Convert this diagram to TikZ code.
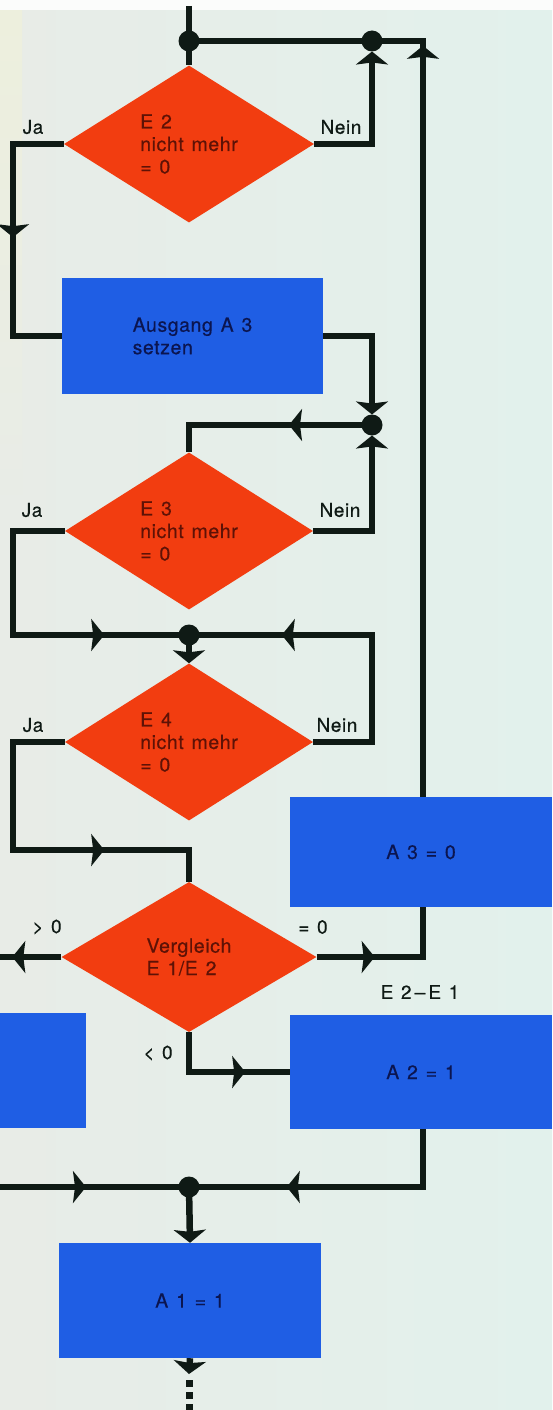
\documentclass[tikz,border=0pt]{standalone}
\usepackage{fontspec}
\setmainfont{TeX Gyre Heros}[LetterSpace=3, WordSpace=1.3, FakeBold=0.4]
\usetikzlibrary{shapes.geometric,arrows.meta,decorations.markings}

\definecolor{bgmint}{HTML}{E2F1EC}
\definecolor{bggrey}{HTML}{E8ECE7}
\definecolor{edgetint}{HTML}{EDEFDD}
\definecolor{ink}{HTML}{0F1A15}
\definecolor{testred}{HTML}{F23D10}
\definecolor{actblue}{HTML}{1F5EE4}
\definecolor{redtext}{HTML}{5E1206}
\definecolor{bluetext}{HTML}{0B1550}

\tikzset{
  flowtip/.tip={Stealth[width=32pt,length=13pt,inset=2pt]},
  test/.style={diamond, fill=testred, inner sep=0pt, minimum width=250pt,
    minimum height=150pt, align=left, text=redtext,
    font=\fontsize{19.5}{22.5}\selectfont},
  action/.style={rectangle, fill=actblue, inner sep=0pt, align=left,
    text=bluetext, font=\fontsize{19.5}{22.5}\selectfont},
  conn/.style={draw=ink, line width=6.5pt},
  lbl/.style={text=ink, font=\fontsize{19}{22}\selectfont, inner sep=0pt},
  arrow at/.style={postaction={decorate,decoration={markings,
    mark=at position #1 with {\arrow{flowtip}}}}},
}

\begin{document}
\begin{tikzpicture}[x=1pt,y=-1pt]
\useasboundingbox (0,0) rectangle (552,1410);
% paper
\shade[left color=bggrey, right color=bgmint] (0,0) rectangle (552,1410);
\shade[top color=edgetint, bottom color=bggrey] (0,10) rectangle (22,520);
\fill[white!85!bggrey] (0,0) rectangle (552,10);

% rails used for the bends
\coordinate (xl) at (13,0);
\coordinate (xn) at (372,0);
\coordinate (xr) at (423,0);
\coordinate (lout) at (-8,0);

% decisions
\node[test] (e2) at (189,144) {E 2\\nicht mehr\\= 0};
\node[test, minimum width=248pt, minimum height=148pt] (e3) at (189,531) {E 3\\nicht mehr\\= 0};
\node[test, minimum width=248pt] (e4) at (189,742) {E 4\\nicht mehr\\= 0};
\node[test, minimum width=255pt] (v) at (189,957) {Vergleich\\E 1/E 2};

% actions
\node[action, minimum width=261pt, minimum height=116pt] (a3set) at (192.5,336) {Ausgang A 3\\setzen};
\node[action, minimum width=262pt, minimum height=110pt] (a30) at (421,852) {A 3 = 0};
\node[action, minimum width=262pt, minimum height=114pt] (a21) at (421,1072) {A 2 = 1};
\node[action, minimum width=96pt, minimum height=115pt] (aleft) at (38,1070.5) {};
\node[action, minimum width=262pt, minimum height=115pt] (a11) at (190,1300.5) {A 1 = 1};

% junctions
\coordinate (j1) at (189,41);
\coordinate (j2) at (372,41);
\coordinate (j3) at (372,425);
\coordinate (j4) at (189,635);
\coordinate (j5) at (189,1187);
\coordinate (top) at (189,6);
\coordinate (k4) at (13,850);
\coordinate (lin) at (-8,1187);
\coordinate (tail) at (189,1374);
\coordinate (cont) at (189,1380);
\coordinate (contend) at (189,1418);

% connectors
\draw[conn] (top) -- (j1);
\draw[conn] (j1) -- (e2.north);
\draw[conn, arrow at=751pt] (a30.north -| xr) |- (j1);
\draw[conn, -{flowtip}, shorten >=10.5pt] (e2.east) -| (j2);
\draw[conn, arrow at=144pt] (e2.west) -| (xl |- a3set.west) -- (a3set.west);
\draw[conn, -{flowtip}, shorten >=10.5pt] (a3set.east) -| (j3);
\draw[conn, -{flowtip}, shorten >=10.5pt] (e3.east) -| (j3);
\draw[conn, arrow at=83pt] (j3) -| (e3.north);
\draw[conn, arrow at=247pt] (e3.west) -| (xl |- j4) -- (j4);
\draw[conn, arrow at=256pt] (e4.east) -| (xn |- j4) -- (j4);
\draw[conn, -{flowtip}] (j4) -- (e4.north);
\draw[conn, arrow at=251pt] (e4.west) -| (k4) -| (v.north);
\draw[conn, arrow at=49pt] (v.west) -- (v.west -| lout);
\draw[conn, arrow at=58pt] (v.east) -| (a30.south -| xr);
\draw[conn, arrow at=96pt] (v.south) |- (a21.west);
\draw[conn, arrow at=194pt] (a21.south -| xr) |- (j5);
\draw[conn, arrow at=94pt] (lin) -- (j5);
\draw[conn, -{flowtip}] (j5) -- (a11.north);
\draw[conn, -{flowtip}] (a11.south) -- (tail);
\draw[conn, line width=7pt, dash pattern=on 7pt off 5pt] (cont) -- (contend);

% junction dots on top of the lines
\foreach \j in {j1,j2,j3,j4,j5} \fill[ink] (\j) circle (10.5pt);

% branch labels
\node[lbl] (ja2) at (33,127) {Ja};
\node[lbl] (nein2) at (341,127) {Nein};
\node[lbl] (ja3) at (32,510) {Ja};
\node[lbl] (nein3) at (340,510) {Nein};
\node[lbl] (ja4) at (33,725) {Ja};
\node[lbl] (nein4) at (337,725) {Nein};
\node[lbl] (gt) at (47,927) {> 0};
\node[lbl] (eq) at (313,927) {= 0};
\node[lbl] (diff) at (420,992) {E 2\,--\,E 1};
\node[lbl] (lt) at (158,1053) {< 0};
\end{tikzpicture}
\end{document}
